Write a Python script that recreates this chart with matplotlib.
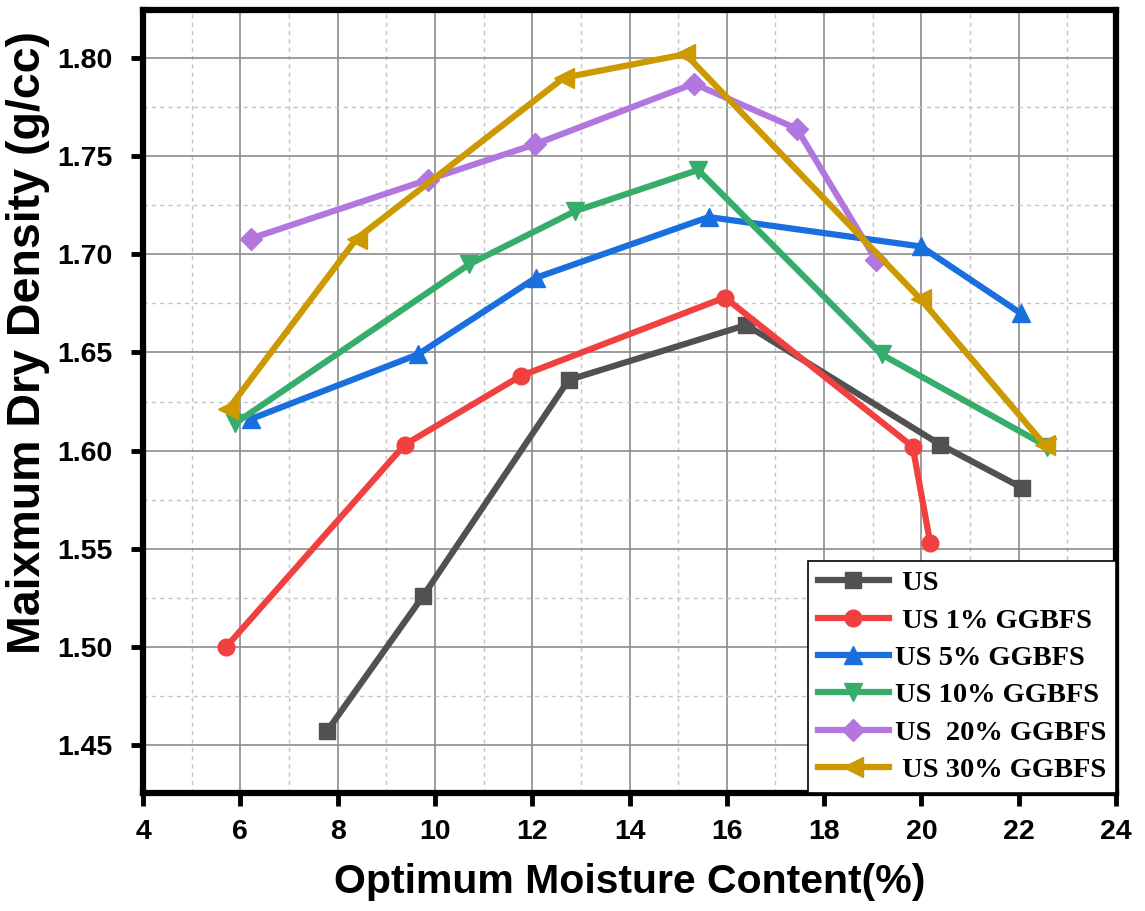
import numpy as np
import matplotlib
matplotlib.use("Agg")
import matplotlib.pyplot as plt
from matplotlib.ticker import MultipleLocator

# data
us_x = [7.78, 9.76, 12.75, 16.40, 20.39, 22.07]
us_y = [1.457, 1.526, 1.636, 1.664, 1.603, 1.581]

us1_x = [5.71, 9.38, 11.76, 15.96, 19.82, 20.18]
us1_y = [1.500, 1.603, 1.638, 1.678, 1.602, 1.553]

us5_x = [6.21, 9.65, 12.07, 15.63, 19.99, 22.04]
us5_y = [1.616, 1.649, 1.688, 1.719, 1.704, 1.670]

us10_x = [5.90, 10.71, 12.88, 15.41, 19.18, 22.59]
us10_y = [1.614, 1.695, 1.722, 1.743, 1.649, 1.602]

us20_x = [6.21, 9.85, 12.05, 15.32, 17.44, 19.07]
us20_y = [1.708, 1.738, 1.756, 1.787, 1.764, 1.697]

us30_x = [5.75, 8.39, 12.65, 15.15, 19.99, 22.53]
us30_y = [1.621, 1.708, 1.790, 1.802, 1.677, 1.603]

labels = [' US', ' US 1% GGBFS', 'US 5% GGBFS', 'US 10% GGBFS',
          'US  20% GGBFS', ' US 30% GGBFS']
colors = ['#515151', '#F14040', '#1A6FDF', '#37AD6B', '#B177DE', '#CC9900']
markers = ['s', 'o', '^', 'v', 'D', '<']
sizes = [11, 12, 13, 13, 11, 14]

series = [(us_x, us_y), (us1_x, us1_y), (us5_x, us5_y),
          (us10_x, us10_y), (us20_x, us20_y), (us30_x, us30_y)]

fig = plt.figure(figsize=(11.45, 9.11), dpi=100)
ax = fig.add_axes([0.1249, 0.1295, 0.8498, 0.8595])

for (xs, ys), lab, c, m, s in zip(series, labels, colors, markers, sizes):
    ax.plot(xs, ys, color=c, marker=m, markersize=s, linewidth=4.5, label=lab)

ax.set_xlim(4, 24)
ax.set_ylim(1.4255, 1.8245)
ax.xaxis.set_major_locator(MultipleLocator(2))
ax.xaxis.set_minor_locator(MultipleLocator(1))
ax.yaxis.set_major_locator(MultipleLocator(0.05))
ax.yaxis.set_minor_locator(MultipleLocator(0.025))
ax.set_yticks(np.arange(1.45, 1.801, 0.05))

ax.grid(which='major', color='#8c8c8c', linewidth=1.2, linestyle='-')
ax.grid(which='minor', color='#c4c4c4', linewidth=1.0, linestyle=(0, (3, 3)))
ax.set_axisbelow(True)

for sp in ax.spines.values():
    sp.set_linewidth(4.5)
    sp.set_color('black')

ax.tick_params(which='major', direction='out', length=9, width=3.5, labelsize=20.5, pad=13)
ax.tick_params(axis='x', pad=10)
ax.tick_params(which='minor', length=0)
for t in ax.get_xticklabels() + ax.get_yticklabels():
    t.set_fontfamily('Liberation Sans')
    t.set_fontweight('bold')

ax.set_xlabel('Optimum Moisture Content(%)', fontsize=29.5, fontweight='bold',
              family='Liberation Sans', labelpad=13)
ax.set_ylabel('Maixmum Dry Density (g/cc)', fontsize=33.5, fontweight='bold',
              family='Liberation Sans')
ax.yaxis.set_label_coords(-0.096, 0.576)

leg = ax.legend(loc='lower right', bbox_to_anchor=(1.0, 0.0), borderaxespad=0.0,
                prop={'family': 'Liberation Serif', 'weight': 'bold', 'size': 20.5},
                fancybox=False, edgecolor='black', framealpha=1,
                handlelength=2.5, labelspacing=0.4, handletextpad=0.2,
                borderpad=0.35)
leg.get_frame().set_linewidth(1.2)

fig.savefig('out.png', dpi=100)
